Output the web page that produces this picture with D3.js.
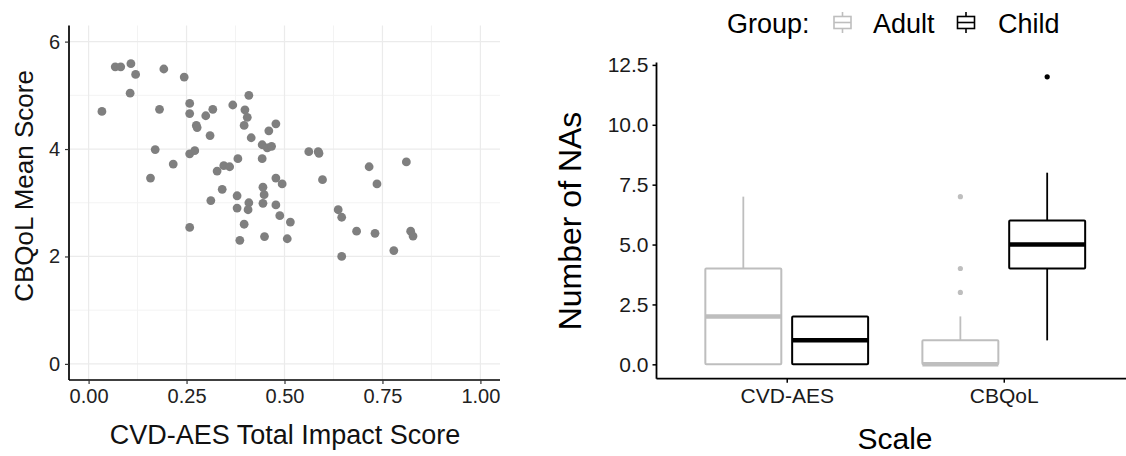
<!DOCTYPE html>
<html>
<head>
<meta charset="utf-8">
<script src="https://cdn.jsdelivr.net/npm/d3@7"></script>
<style>
  body { margin: 0; background: #fff; }
  text { font-family: "Liberation Sans", Arial, sans-serif; }
</style>
</head>
<body>
<svg id="chart" width="1126" height="456"></svg>
<script>
// scatter: CVD-AES total impact vs CBQoL mean score
var impact = [0.034,0.068,0.082,0.108,0.120,0.106,0.192,0.244,0.181,0.170,0.158,0.216,0.258,0.258,0.275,0.277,
  0.299,0.317,0.310,0.258,0.271,0.368,0.409,0.399,0.405,0.397,0.415,0.460,0.478,0.443,0.456,0.467,0.443,0.381,
  0.328,0.345,0.360,0.478,0.341,0.312,0.379,0.445,0.448,0.562,0.586,0.588,0.716,0.811,0.736,0.494,0.597,0.379,
  0.409,0.407,0.445,0.478,0.397,0.386,0.449,0.258,0.488,0.515,0.507,0.637,0.646,0.684,0.731,0.822,0.828,0.779,0.646];
var cbqol = [4.70,5.53,5.53,5.59,5.39,5.04,5.49,5.34,4.74,3.99,3.46,3.72,4.85,4.66,4.44,4.40,
  4.62,4.74,4.25,3.91,3.97,4.82,5.00,4.73,4.59,4.44,4.21,4.34,4.47,4.08,4.02,4.05,3.82,3.82,
  3.59,3.69,3.67,3.46,3.25,3.04,3.13,3.29,3.15,3.95,3.95,3.92,3.67,3.76,3.35,3.35,3.43,2.90,
  3.00,2.87,2.99,2.96,2.60,2.30,2.37,2.54,2.76,2.64,2.33,2.87,2.73,2.47,2.43,2.47,2.38,2.11,2.00];
var xTicks = [0, 0.25, 0.5, 0.75, 1];
var yTicks = [0, 2, 4, 6];

// boxplots: number of NAs per scale and group
var scales = ["CVD-AES", "CBQoL"];
var groups = ["Adult", "Child"];
var adultLow = [0, 0], adultQ1 = [0, 0], adultMed = [2, 0], adultQ3 = [4, 1], adultHigh = [7, 2];
var adultOut = [[], [3, 4, 7]];
var childLow = [0, 1], childQ1 = [0, 4], childMed = [1, 5], childQ3 = [2, 6], childHigh = [2, 8];
var childOut = [[], [12]];
var naTicks = [0, 2.5, 5, 7.5, 10, 12.5];

var colors = {"Adult": "#bebebe", "Child": "#000000"};
var svg = d3.select("#chart");

// ---------- left panel ----------
var x1 = d3.scaleLinear().domain([-0.05, 1.05]).range([69, 500]);
var y1 = d3.scaleLinear().domain([-0.3, 6.3]).range([380, 25.5]);
var left = svg.append("g");

var minorX = [0.125, 0.375, 0.625, 0.875], minorY = [1, 3, 5];
left.selectAll(".mx").data(minorX).enter().append("line")
  .attr("x1", x1).attr("x2", x1).attr("y1", y1.range()[0]).attr("y2", y1.range()[1])
  .attr("stroke", "#f3f3f3").attr("stroke-width", 1);
left.selectAll(".my").data(minorY).enter().append("line")
  .attr("y1", y1).attr("y2", y1).attr("x1", x1.range()[0]).attr("x2", x1.range()[1])
  .attr("stroke", "#f3f3f3").attr("stroke-width", 1);
left.selectAll(".gx").data(xTicks).enter().append("line")
  .attr("x1", x1).attr("x2", x1).attr("y1", y1.range()[0]).attr("y2", y1.range()[1])
  .attr("stroke", "#ebebeb").attr("stroke-width", 1.2);
left.selectAll(".gy").data(yTicks).enter().append("line")
  .attr("y1", y1).attr("y2", y1).attr("x1", x1.range()[0]).attr("x2", x1.range()[1])
  .attr("stroke", "#ebebeb").attr("stroke-width", 1.2);

left.selectAll("circle").data(impact).enter().append("circle")
  .attr("cx", function(d){ return x1(d); })
  .attr("cy", function(d, i){ return y1(cbqol[i]); })
  .attr("r", 4.4).attr("fill", "#7f7f7f");

var ax1 = left.append("g").attr("transform", "translate(0,380)")
  .call(d3.axisBottom(x1).tickValues(xTicks).tickFormat(d3.format(".2f")).tickSize(4).tickPadding(5));
var ay1 = left.append("g").attr("transform", "translate(69,0)")
  .call(d3.axisLeft(y1).tickValues(yTicks).tickFormat(d3.format("d")).tickSize(4).tickPadding(5));
[ax1, ay1].forEach(function(a){
  a.select(".domain").attr("stroke", "#000").attr("stroke-width", 1.7);
  a.selectAll(".tick line").attr("stroke", "#333").attr("stroke-width", 1.2);
  a.selectAll(".tick text").attr("fill", "#222").style("font-size", "20px")
    .style("font-family", "Liberation Sans, Arial, sans-serif");
});
ax1.select(".domain").attr("d", "M69,0H500");
ay1.select(".domain").attr("d", "M0,25.5V380");

left.append("text").attr("x", 285).attr("y", 444).attr("text-anchor", "middle")
  .style("font-size", "27px").attr("fill", "#111").text("CVD-AES Total Impact Score");
left.append("text").attr("transform", "translate(33,186) rotate(-90)").attr("text-anchor", "middle")
  .style("font-size", "26px").attr("fill", "#111").text("CBQoL Mean Score");

// ---------- right panel ----------
var x2 = d3.scalePoint().domain(scales).range([656.5, 1134]).padding(0.6);
var step = x2.step();
var dodge = d3.scalePoint().domain(groups).range([-0.2 * step, 0.2 * step]);
var boxW = 0.35 * step;
var y2 = d3.scaleLinear().domain([-0.6, 12.6]).range([378.7, 62.5]);
var right = svg.append("g");

var stats = {
  "Adult": {low: adultLow, q1: adultQ1, med: adultMed, q3: adultQ3, high: adultHigh, out: adultOut},
  "Child": {low: childLow, q1: childQ1, med: childMed, q3: childQ3, high: childHigh, out: childOut}
};
var boxes = [];
groups.forEach(function(g){
  scales.forEach(function(s, i){
    boxes.push({group: g, scale: s, low: stats[g].low[i], q1: stats[g].q1[i], med: stats[g].med[i],
      q3: stats[g].q3[i], high: stats[g].high[i], out: stats[g].out[i]});
  });
});

var bx = right.selectAll(".box").data(boxes).enter().append("g")
  .attr("transform", function(d){ return "translate(" + (x2(d.scale) + dodge(d.group)) + ",0)"; });
bx.append("line").attr("x1", 0).attr("x2", 0)
  .attr("y1", function(d){ return y2(d.q3); }).attr("y2", function(d){ return y2(d.high); })
  .attr("stroke", function(d){ return colors[d.group]; }).attr("stroke-width", 1.8);
bx.append("line").attr("x1", 0).attr("x2", 0)
  .attr("y1", function(d){ return y2(d.q1); }).attr("y2", function(d){ return y2(d.low); })
  .attr("stroke", function(d){ return colors[d.group]; }).attr("stroke-width", 1.8);
bx.append("rect").attr("x", -boxW / 2).attr("width", boxW)
  .attr("y", function(d){ return y2(d.q3); })
  .attr("height", function(d){ return y2(d.q1) - y2(d.q3); })
  .attr("fill", "#fff").attr("stroke", function(d){ return colors[d.group]; })
  .attr("stroke-width", 2).attr("rx", 1);
bx.append("line").attr("x1", -boxW / 2).attr("x2", boxW / 2)
  .attr("y1", function(d){ return y2(d.med); }).attr("y2", function(d){ return y2(d.med); })
  .attr("stroke", function(d){ return colors[d.group]; }).attr("stroke-width", 4.5);
bx.selectAll(".out").data(function(d){ return d.out.map(function(v){ return {v: v, g: d.group}; }); })
  .enter().append("circle").attr("cx", 0).attr("cy", function(d){ return y2(d.v); })
  .attr("r", 2.6).attr("fill", function(d){ return colors[d.g]; });

var ax2 = right.append("g").attr("transform", "translate(0,378.7)")
  .call(d3.axisBottom(x2).tickSize(4).tickPadding(5));
var ay2 = right.append("g").attr("transform", "translate(656.5,0)")
  .call(d3.axisLeft(y2).tickValues(naTicks).tickFormat(d3.format(".1f")).tickSize(4).tickPadding(4));
[ax2, ay2].forEach(function(a){
  a.select(".domain").attr("stroke", "#000").attr("stroke-width", 1.8);
  a.selectAll(".tick line").attr("stroke", "#000").attr("stroke-width", 1.5);
  a.selectAll(".tick text").attr("fill", "#1a1a1a").style("font-size", "21px")
    .style("font-family", "Liberation Sans, Arial, sans-serif");
});
ax2.select(".domain").attr("d", "M656.5,0H1134");
ay2.select(".domain").attr("d", "M0,62.5V378.7");

right.append("text").attr("x", 895).attr("y", 449).attr("text-anchor", "middle")
  .style("font-size", "30px").attr("fill", "#000").text("Scale");
right.append("text").attr("transform", "translate(581,221) rotate(-90)").attr("text-anchor", "middle")
  .style("font-size", "32px").attr("fill", "#000").text("Number of NAs");

// legend
var legend = svg.append("g");
legend.append("text").attr("x", 727).attr("y", 33).style("font-size", "27px").attr("fill", "#000").text("Group:");
var keyX = [842.5, 966], labX = [873, 998];
groups.forEach(function(g, i){
  var k = legend.append("g").attr("transform", "translate(" + keyX[i] + ",0)");
  k.append("line").attr("x1", 0).attr("x2", 0).attr("y1", 12).attr("y2", 33)
    .attr("stroke", colors[g]).attr("stroke-width", 1.6);
  k.append("rect").attr("x", -8.5).attr("y", 16.5).attr("width", 17).attr("height", 12)
    .attr("fill", "#fff").attr("stroke", colors[g]).attr("stroke-width", 1.6);
  k.append("line").attr("x1", -8.5).attr("x2", 8.5).attr("y1", 22.5).attr("y2", 22.5)
    .attr("stroke", colors[g]).attr("stroke-width", 1.6);
  legend.append("text").attr("x", labX[i]).attr("y", 33).style("font-size", "27px")
    .attr("fill", "#000").text(g);
});
</script>
</body>
</html>
